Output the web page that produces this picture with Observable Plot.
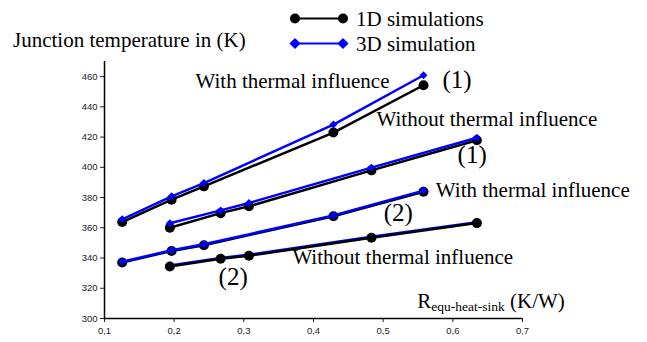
<!DOCTYPE html>
<html><head><meta charset="utf-8">
<script src="https://cdn.jsdelivr.net/npm/d3@7"></script>
<script src="https://cdn.jsdelivr.net/npm/@observablehq/plot@0.6"></script>
<style>
body{margin:0;background:#fff;}
#wrap{width:647px;height:342px;}
</style></head><body>
<div id="wrap"></div>
<script>
// R equ-heat-sink (K/W) positions
const rWith = [0.1254, 0.1963, 0.2427, 0.4286, 0.5579];
const rWithout = [0.1938, 0.2667, 0.3073, 0.4832, 0.6345];
// Junction temperature (K)
const oneD_with1 = [363.8, 378.6, 387.4, 423.0, 454.3];
const threeD_with1 = [365.6, 380.8, 389.6, 428.3, 460.9];
const oneD_without1 = [360.0, 369.7, 374.2, 398.0, 417.9];
const threeD_without1 = [363.0, 371.5, 376.4, 399.8, 419.6];
const oneD_with2 = [337.0, 344.7, 348.5, 367.6, 383.8];
const threeD_with2 = [337.5, 345.2, 349.1, 368.2, 384.6];
const oneD_without2 = [334.4, 339.5, 341.5, 353.4, 363.1];
const threeD_without2 = [335.1, 340.1, 342.2, 354.1, 363.7];

const xTicks = [0.1, 0.2, 0.3, 0.4, 0.5, 0.6, 0.7];
const yTicks = [300, 320, 340, 360, 380, 400, 420, 440, 460];

const annTexts = ["With thermal influence", "(1)", "Without thermal influence", "(1)", "With thermal influence", "(2)", "Without thermal influence", "(2)"];
const annX = [0.2307, 0.5852, 0.4904, 0.6068, 0.5756, 0.5009, 0.3697, 0.2638];
const annY = [452.6, 452.8, 427.4, 403.0, 380.3, 364.6, 336.1, 322.2];
const annSize = [21, 25, 21, 25, 21, 25, 21, 25];

function rows(name, model, xs, ys) {
  return xs.map((x, i) => ({series: name, model, x, y: ys[i]}));
}
const data = [
  ...rows("with1", "1D", rWith, oneD_with1),
  ...rows("with1", "3D", rWith, threeD_with1),
  ...rows("without1", "1D", rWithout, oneD_without1),
  ...rows("without1", "3D", rWithout, threeD_without1),
  ...rows("with2", "1D", rWith, oneD_with2),
  ...rows("with2", "3D", rWith, threeD_with2),
  ...rows("without2", "1D", rWithout, oneD_without2),
  ...rows("without2", "3D", rWithout, threeD_without2)
];
const ann = annTexts.map((t, i) => ({text: t, x: annX[i], y: annY[i], size: annSize[i]}));

const blueUnder = data.filter(d => d.model === "3D" && d.series === "without2");
const blueOver = data.filter(d => d.model === "3D" && d.series !== "without2");
const black = data.filter(d => d.model === "1D");
const serif = '"Liberation Serif", "Times New Roman", serif';
const BLUE = "#0000ff";

const plot = Plot.plot({
  width: 647, height: 342,
  marginLeft: 104, marginRight: 125, marginTop: 61, marginBottom: 24,
  style: {fontFamily: '"Liberation Sans", Arial, sans-serif', fontSize: "9.5px", color: "#222", background: "#fff", overflow: "visible"},
  x: {domain: [0.1, 0.7], ticks: xTicks, tickFormat: d => d.toFixed(1).replace(".", ","), label: null, tickSize: 4, tickPadding: 5},
  y: {domain: [300, 470], ticks: yTicks, label: null, tickSize: 4, tickPadding: 3},
  marks: [
    Plot.ruleX([0.1], {y1: 300, y2: 470, stroke: "#000", strokeWidth: 1.5}),
    Plot.ruleY([300], {x1: 0.1, x2: 0.7, stroke: "#000", strokeWidth: 1.5}),
    Plot.line(blueUnder, {x: "x", y: "y", z: "series", stroke: BLUE, strokeWidth: 2.5}),
    Plot.dot(blueUnder, {x: "x", y: "y", symbol: "diamond2", r: 3.6, fill: BLUE, stroke: "none"}),
    Plot.line(black, {x: "x", y: "y", z: "series", stroke: "#000", strokeWidth: 2.5}),
    Plot.dot(black, {x: "x", y: "y", r: 5, fill: "#000", stroke: "none"}),
    Plot.line(blueOver, {x: "x", y: "y", z: "series", stroke: BLUE, strokeWidth: 2.5}),
    Plot.dot(blueOver, {x: "x", y: "y", symbol: "diamond2", r: 3.6, fill: BLUE, stroke: "none"}),
    Plot.text(ann, {x: "x", y: "y", text: "text", fontSize: "size", fontFamily: serif, textAnchor: "start", lineAnchor: "bottom", fill: "#000"})
  ]
});
document.getElementById("wrap").appendChild(plot);

// x-axis title with subscript, positioned via the plot's scales
const sx = plot.scale("x"), sy = plot.scale("y");
const svg = d3.select(plot);
const xl = svg.append("text").attr("x", sx.apply(0.5497)).attr("y", sy.apply(306.4))
  .attr("text-anchor", "start").attr("font-family", serif).attr("font-size", 21).attr("fill", "#000");
xl.append("tspan").text("R");
xl.append("tspan").attr("font-size", 13.5).attr("dy", 3).text("equ-heat-sink");
xl.append("tspan").attr("dy", -3).text(" (K/W)");

// title and legend
svg.append("text").attr("x", 13).attr("y", 47).attr("text-anchor", "start").attr("font-family", serif).attr("font-size", 21).attr("fill", "#000").text("Junction temperature in (K)");
const lg = svg.append("g");
const items = [{label: "1D simulations", color: "#000", sym: "circle", y: 18.5, ty: 25.5}, {label: "3D simulation", color: BLUE, sym: "diamond", y: 43.5, ty: 50.5}];
for (const it of items) {
  lg.append("line").attr("x1", 295).attr("x2", 343).attr("y1", it.y).attr("y2", it.y).attr("stroke", it.color).attr("stroke-width", 2);
  for (const cx of [295, 343]) {
    if (it.sym === "circle") lg.append("circle").attr("cx", cx).attr("cy", it.y).attr("r", 5).attr("fill", it.color);
    else lg.append("path").attr("d", d3.symbol(d3.symbolDiamond2, 80)()).attr("transform", `translate(${cx},${it.y})`).attr("fill", it.color);
  }
  lg.append("text").attr("x", 356).attr("y", it.ty).attr("text-anchor", "start").attr("font-family", serif).attr("font-size", 21).attr("fill", "#000").text(it.label);
}
</script>
</body></html>
